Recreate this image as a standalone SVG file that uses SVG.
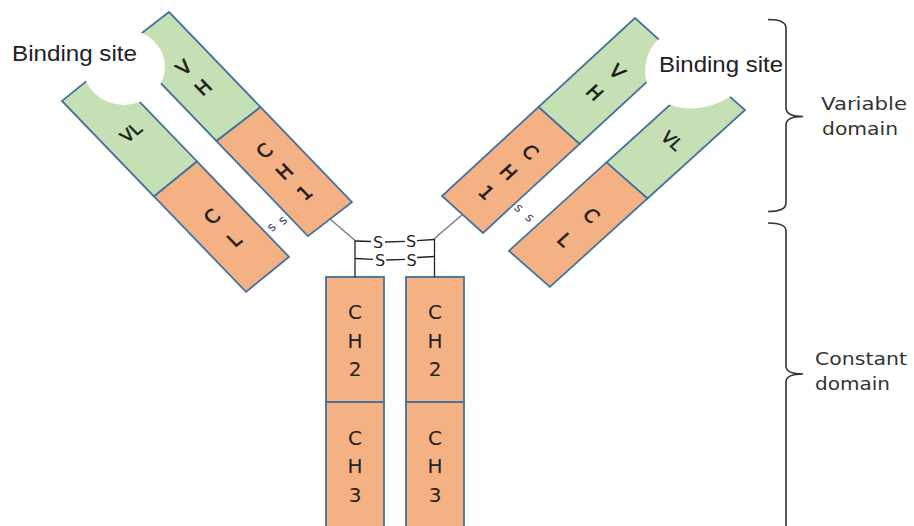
<svg xmlns="http://www.w3.org/2000/svg" width="914" height="526" viewBox="0 0 914 526">
<style>
.g{fill:#C5E0B4;stroke:#41719C;stroke-width:1.8}
.o{fill:#F4B183;stroke:#41719C;stroke-width:1.8}
.t{font-family:"DejaVu Sans",Verdana,sans-serif;font-size:19px;fill:#1a1a1a;stroke:#1a1a1a;stroke-width:0.6;text-anchor:middle}
.vl{font-family:"DejaVu Sans",Verdana,sans-serif;font-size:17px;fill:#1a1a1a;stroke:#1a1a1a;stroke-width:0.5;text-anchor:middle}
.st{font-family:"DejaVu Sans",Verdana,sans-serif;font-size:20px;fill:#222;text-anchor:middle}
.lbl{font-family:"Liberation Sans",Arial,sans-serif;font-size:21.5px;fill:#222}
.dom{font-family:"DejaVu Sans",Verdana,sans-serif;font-size:18px;fill:#333}
.s{font-family:"DejaVu Sans",Verdana,sans-serif;font-size:16px;fill:#222;text-anchor:middle}
.ss{font-family:"DejaVu Sans",Verdana,sans-serif;font-size:13px;fill:#34466e;text-anchor:middle}
.bond{stroke:#222;stroke-width:1.3;fill:none}
.hinge{stroke:#777;stroke-width:1.3;fill:none}
.brace{stroke:#333;stroke-width:1.6;fill:none}
</style>

<g id="heavy-left" transform="matrix(0.786,-0.607,0.693,0.720,125,46)">
  <rect class="g" x="0" y="0" width="56" height="132"/>
  <rect class="o" x="0" y="132" width="56" height="132"/>
  <text class="t" x="28" y="60">V</text>
  <text class="t" x="28" y="88">H</text>
  <text class="t" x="28" y="176">C</text>
  <text class="t" x="28" y="205">H</text>
  <text class="t" x="28" y="234">1</text>
</g>

<g id="light-left" transform="matrix(0.768,-0.625,0.697,0.723,62,101)">
  <rect class="g" x="0" y="0" width="56" height="132"/>
  <rect class="o" x="0" y="132" width="56" height="132"/>
  <text class="vl" x="28" y="74">VL</text>
  <text class="t" x="28" y="191">C</text>
  <text class="t" x="28" y="223">L</text>
  <text class="ss" x="64" y="234">s</text>
  <text class="ss" x="77" y="236">s</text>
</g>

<g id="heavy-right" transform="matrix(0.732,0.661,-0.731,0.674,635,18)">
  <rect class="g" x="0" y="0" width="56" height="132"/>
  <rect class="o" x="0" y="132" width="56" height="132"/>
  <text class="t" x="28" y="59">V</text>
  <text class="t" x="28" y="90">H</text>
  <text class="t" x="28" y="178">C</text>
  <text class="t" x="28" y="208">H</text>
  <text class="t" x="28" y="238">1</text>
</g>

<g id="light-right" transform="matrix(0.732,0.643,-0.739,0.670,704,74)">
  <rect class="g" x="0" y="0" width="56" height="132"/>
  <rect class="o" x="0" y="132" width="56" height="132"/>
  <text class="vl" x="29" y="78">VL</text>
  <text class="t" x="30" y="189">C</text>
  <text class="t" x="30" y="225">L</text>
  <text class="ss" x="-26" y="229">s</text>
  <text class="ss" x="-11" y="229">s</text>
</g>

<g id="binding-site-left">
  <ellipse cx="124" cy="67" rx="41" ry="38" fill="#fff"/>
  <text class="lbl" x="12" y="61" textLength="125" lengthAdjust="spacingAndGlyphs">Binding site</text>
</g>

<g id="binding-site-right">
  <path d="M658,40 C646,50 642,72 648,86 C656,104 690,120 730,97 L752,62 L690,18 Z" fill="#fff"/>
  <text class="lbl" x="659" y="72" textLength="124" lengthAdjust="spacingAndGlyphs">Binding site</text>
</g>

<g id="ch-left">
  <rect class="o" x="326" y="277" width="58" height="125"/>
  <rect class="o" x="326" y="402" width="58" height="127"/>
  <text class="st" x="355" y="319">C</text>
  <text class="st" x="355" y="347.5">H</text>
  <text class="st" x="355" y="376">2</text>
  <text class="st" x="355" y="444.5">C</text>
  <text class="st" x="355" y="473">H</text>
  <text class="st" x="355" y="501.5">3</text>
</g>

<g id="ch-right">
  <rect class="o" x="406" y="277" width="58" height="125"/>
  <rect class="o" x="406" y="402" width="58" height="127"/>
  <text class="st" x="435" y="319">C</text>
  <text class="st" x="435" y="347.5">H</text>
  <text class="st" x="435" y="376">2</text>
  <text class="st" x="435" y="444.5">C</text>
  <text class="st" x="435" y="473">H</text>
  <text class="st" x="435" y="501.5">3</text>
</g>

<g id="connectors">
  <path class="hinge" d="M330,219 L355,240.5 M462.5,214.5 L434.5,238.5"/>
  <path class="bond" d="M355,240.5 V277 M434.5,238.5 V277"/>
  <path class="bond" d="M355,241 L371,241.5 M385,242 L405,241.3 M417,240.7 L434.5,239.5"/>
  <path class="bond" d="M355,258.5 L373,259.3 M386,260 L405,259.3 M417,257.5 L434.5,256.5"/>
  <text class="s" x="378" y="248">S</text>
  <text class="s" x="411" y="247">S</text>
  <text class="s" x="380" y="266">S</text>
  <text class="s" x="411.5" y="265.5">S</text>
</g>

<g id="variable-domain">
  <path class="brace" d="M768,19.5 Q786,19.5 786,28 L786,108 Q786,116.5 803,116.5 Q786,116.5 786,125 L786,203 Q786,211.5 768,211.5"/>
  <text class="dom" x="821" y="110" textLength="86" lengthAdjust="spacingAndGlyphs">Variable</text>
  <text class="dom" x="822" y="135" textLength="76" lengthAdjust="spacingAndGlyphs">domain</text>
</g>

<g id="constant-domain">
  <path class="brace" d="M768,223 Q786,223 786,231 L786,366 Q786,374 803,374 Q786,374 786,382 L786,528"/>
  <text class="dom" x="815" y="365" textLength="92" lengthAdjust="spacingAndGlyphs">Constant</text>
  <text class="dom" x="815" y="390" textLength="75" lengthAdjust="spacingAndGlyphs">domain</text>
</g>
</svg>
